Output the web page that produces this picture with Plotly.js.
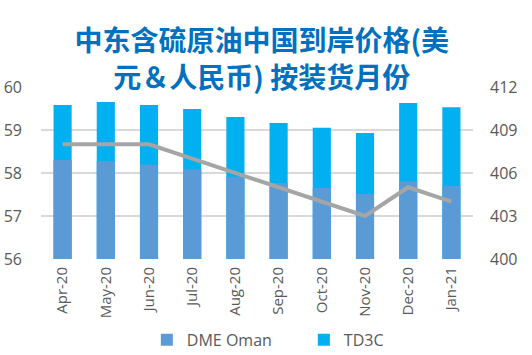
<!DOCTYPE html>
<html><head><meta charset="utf-8">
<script src="https://cdn.plot.ly/plotly-3.0.1.min.js"></script>
<style>body{margin:0;background:#fff}#c{width:532px;height:355px}</style>
</head><body><div id="c"></div>
<script>
const months = ["Apr-20","May-20","Jun-20","Jul-20","Aug-20","Sep-20","Oct-20","Nov-20","Dec-20","Jan-21"];
const dmeOman = [58.30,58.28,58.19,58.09,57.91,57.77,57.65,57.51,57.81,57.70];
const td3cTotal = [59.58,59.65,59.58,59.49,59.30,59.16,59.05,58.93,59.63,59.53];
const rmbLine = [408,408,408,407,406,405,404,403,405,404];
const leftTicks = [56,57,58,59,60];
const rightTicks = [400,403,406,409,412];

const tickFont = {family:"Open Sans, Liberation Sans, sans-serif", size:16, color:"#595959"};
const xFont = {family:"Open Sans, Liberation Sans, sans-serif", size:15, color:"#595959"};
const data = [
  {type:"bar", name:"TD3C", x:months, y:td3cTotal, marker:{color:"#00B0F0"}, legendrank:2, hoverinfo:"y"},
  {type:"bar", name:"DME Oman", x:months, y:dmeOman, marker:{color:"#5B9BD5"}, legendrank:1, hoverinfo:"y"},
  {type:"scatter", mode:"lines", x:months, y:rmbLine, yaxis:"y2", line:{color:"#A5A5A5", width:4}, showlegend:false, hoverinfo:"y"}
];
const layout = {
  width:532, height:355,
  margin:{l:41, r:59, t:87, b:96, autoexpand:false},
  paper_bgcolor:"#fff", plot_bgcolor:"#fff",
  barmode:"overlay", bargap:0.58,
  title:{text:"中东含硫原油中国到岸价格(美<br>元＆人民币) 按装货月份", x:0.492, xanchor:"center", y:0.855, yanchor:"top",
    font:{family:"Noto Sans CJK SC, sans-serif", size:28, color:"#0070C0", weight:"bold"}},
  xaxis:{type:"category", tickangle:-90, tickfont:xFont, showgrid:false, zeroline:false, showline:false, ticks:"", ticklabelstandoff:4, automargin:false},
  yaxis:{range:[56,60], tickvals:leftTicks, tickfont:tickFont, gridcolor:"#D9D9D9", gridwidth:1.5, zeroline:false, showline:false, ticks:"", ticklabelstandoff:18, automargin:false},
  yaxis2:{range:[400,412], tickvals:rightTicks, overlaying:"y", side:"right", tickfont:tickFont, showgrid:false, zeroline:false, showline:false, ticklabelstandoff:16, automargin:false},
  legend:{orientation:"h", x:0.245, xanchor:"left", y:-0.47, yanchor:"middle", font:{family:"Open Sans, Liberation Sans, sans-serif", size:16, color:"#595959"}, traceorder:"normal", entrywidth:112},
  showlegend:true
};
Plotly.newPlot("c", data, layout, {displayModeBar:false, staticPlot:true});
</script></body></html>
